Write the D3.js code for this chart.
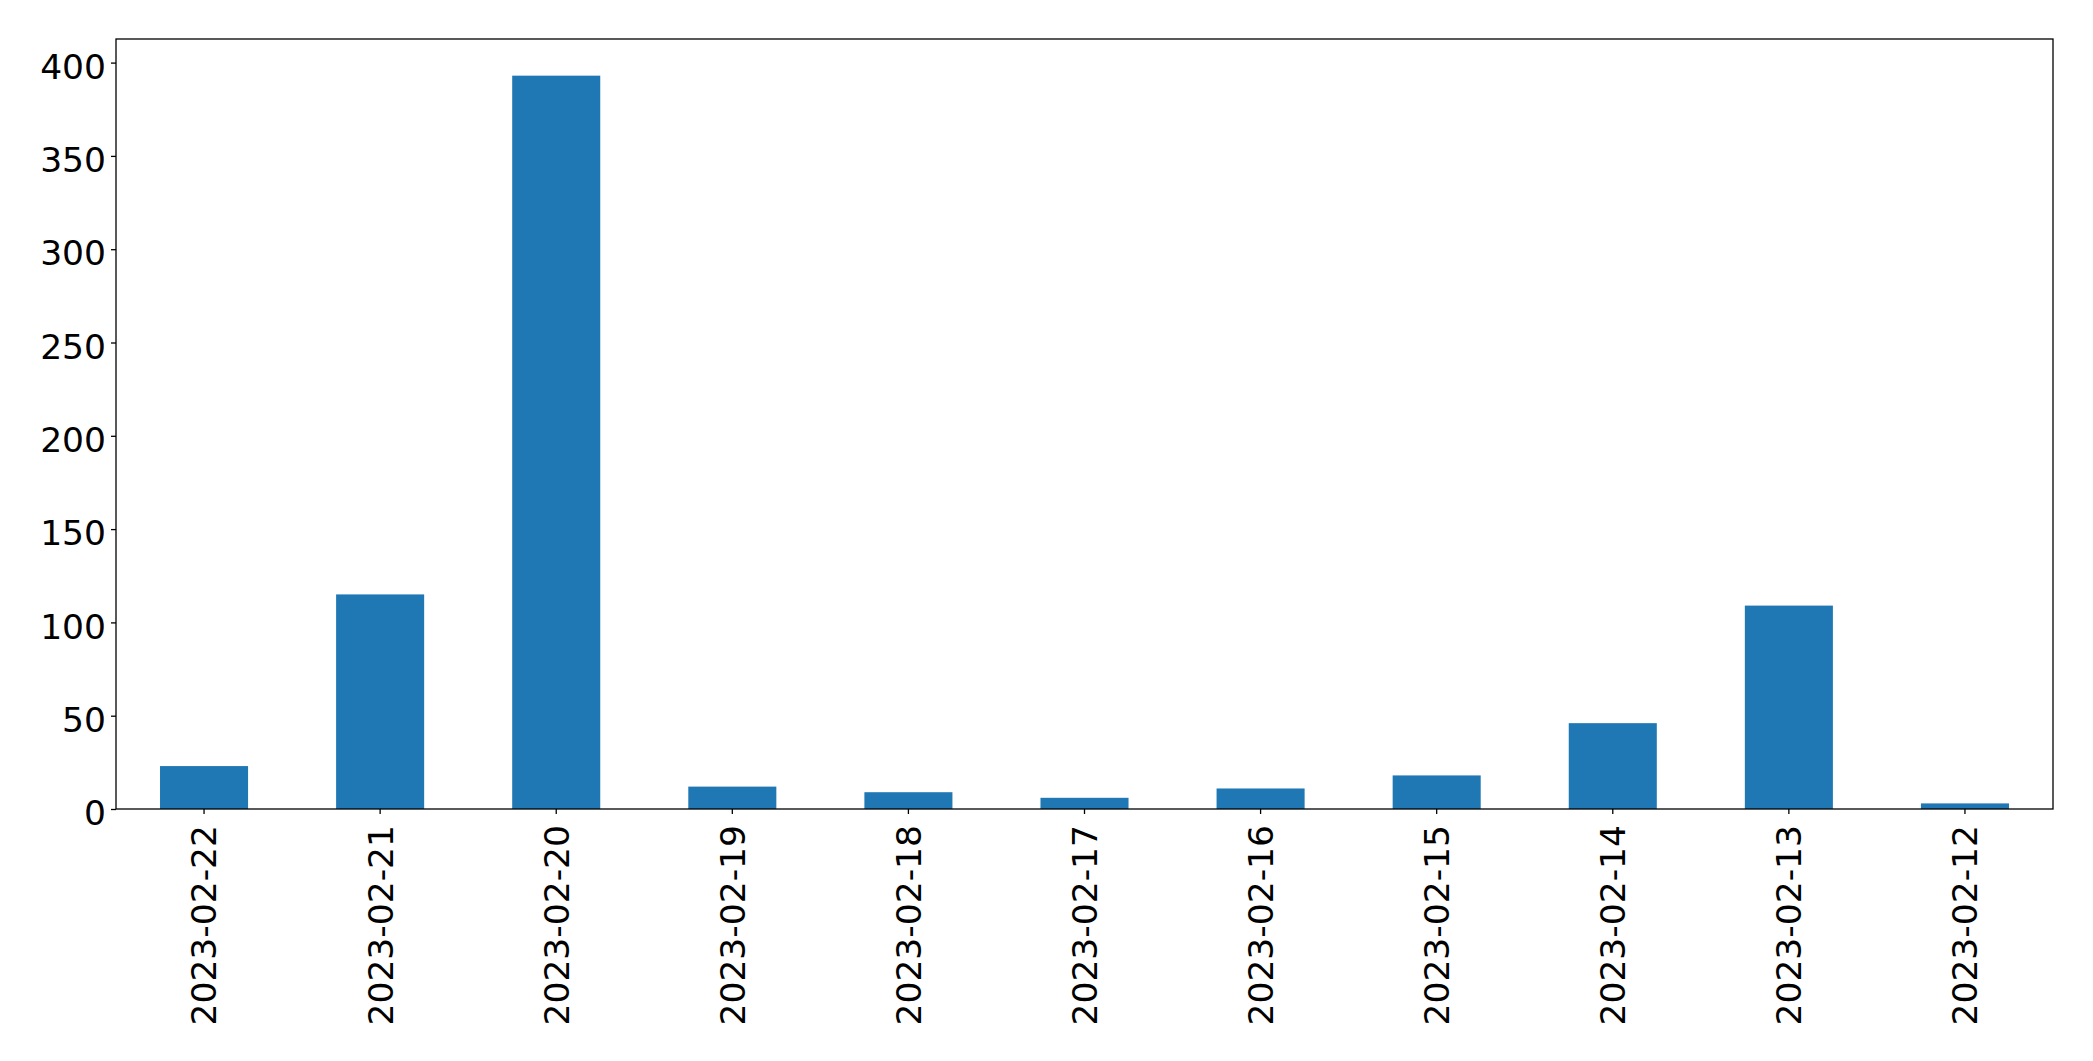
<!DOCTYPE html>
<html>
<head>
<meta charset="utf-8">
<script src="https://cdn.jsdelivr.net/npm/d3@7"></script>
<style>
  html, body { margin: 0; padding: 0; background: #fff; }
  svg { display: block; }
  text { font-family: "DejaVu Sans", sans-serif; fill: #000; }
</style>
</head>
<body>
<script>
const categories = ["2023-02-22","2023-02-21","2023-02-20","2023-02-19","2023-02-18","2023-02-17","2023-02-16","2023-02-15","2023-02-14","2023-02-13","2023-02-12"];
const values = [23, 115, 393, 12, 9, 6, 11, 18, 46, 109, 3];
const yTicks = [0, 50, 100, 150, 200, 250, 300, 350, 400];

const W = 2093, H = 1061;
const mLeft = 116, mRight = 2053, mTop = 39, mBottom = 809;
const fontSize = 34.5;

const svg = d3.select("body").append("svg").attr("width", W).attr("height", H);

const x = d3.scaleBand().domain(categories).range([mLeft, mRight]).paddingInner(0.5).paddingOuter(0.25);
const y = d3.scaleLinear().domain([0, d3.max(values) * 1.05]).range([mBottom, mTop]);

svg.append("g").selectAll("rect").data(values).join("rect")
  .attr("x", (d, i) => x(categories[i]))
  .attr("width", x.bandwidth())
  .attr("y", d => y(d))
  .attr("height", d => y(0) - y(d))
  .attr("fill", "#1f77b4");

// Y axis
const yAxis = d3.axisLeft(y).tickValues(yTicks).tickSize(5).tickPadding(5).tickFormat(d3.format("d"));
const gy = svg.append("g").attr("transform", `translate(${mLeft},0)`).call(yAxis);
gy.select(".domain").remove();
gy.selectAll(".tick line").attr("stroke", "#000").attr("stroke-width", 1.3);
gy.selectAll(".tick text").attr("font-size", fontSize).attr("font-family", "DejaVu Sans").attr("dy", "0.455em").attr("x", -10).attr("fill", "#000");

// X axis
const xAxis = d3.axisBottom(x).tickSize(5).tickPadding(5);
const gx = svg.append("g").attr("transform", `translate(0,${mBottom})`).call(xAxis);
gx.select(".domain").remove();
gx.selectAll(".tick line").attr("stroke", "#000").attr("stroke-width", 1.3);
gx.selectAll(".tick text")
  .attr("font-size", fontSize).attr("font-family", "DejaVu Sans").attr("fill", "#000")
  .attr("transform", "rotate(-90)")
  .attr("text-anchor", "end")
  .attr("x", -16).attr("y", 0).attr("dy", "0.36em");

// Frame
svg.append("rect").attr("x", mLeft).attr("y", mTop).attr("width", mRight - mLeft).attr("height", mBottom - mTop)
  .attr("fill", "none").attr("stroke", "#000").attr("stroke-width", 1.3);
</script>
</body>
</html>
